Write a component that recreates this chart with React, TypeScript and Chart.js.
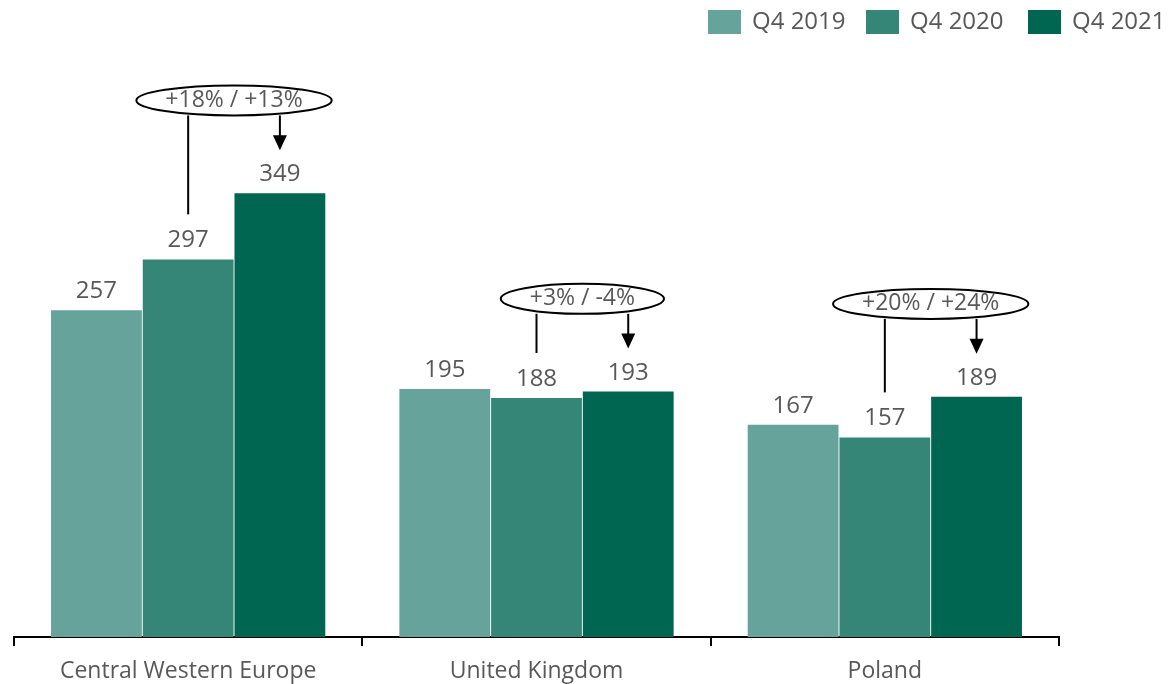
import React, { useEffect, useRef } from "react";
import { Chart, registerables } from "chart.js";

Chart.register(...registerables);

const categories = ["Central Western Europe", "United Kingdom", "Poland"];
const seriesNames = ["Q4 2019", "Q4 2020", "Q4 2021"];
const q42019 = [257, 195, 167];
const q42020 = [297, 188, 157];
const q42021 = [349, 193, 189];
const changeLabels = ["+18% / +13%", "+3% / -4%", "+20% / +24%"];
const changeLevels = [422, 266, 262];
const colors = ["#66a49b", "#358677", "#006652"];

const FONT = "'Open Sans', sans-serif";
const TEXT = "#585858";

export default function App() {
  const ref = useRef<HTMLCanvasElement | null>(null);

  useEffect(() => {
    document.body.style.margin = "0";
    const canvas = ref.current!;
    const overlay = {
      id: "overlay",
      afterDatasetsDraw(chart: any) {
        const ctx = chart.ctx as CanvasRenderingContext2D;
        ctx.save();
        // value labels
        ctx.font = `24px ${FONT}`;
        ctx.fillStyle = TEXT;
        ctx.textAlign = "center";
        ctx.textBaseline = "alphabetic";
        chart.data.datasets.forEach((ds: any, di: number) => {
          const meta = chart.getDatasetMeta(di);
          meta.data.forEach((bar: any, i: number) => {
            ctx.fillText(String(ds.data[i]), bar.x, bar.y - 12);
          });
        });
        // annotations
        const yScale = chart.scales.y;
        const m1 = chart.getDatasetMeta(1);
        const m2 = chart.getDatasetMeta(2);
        changeLabels.forEach((lab, i) => {
          const b1 = m1.data[i];
          const b2 = m2.data[i];
          const cx = (b1.x + b2.x) / 2;
          const cy = yScale.getPixelForValue(changeLevels[i]);
          ctx.font = `23px ${FONT}`;
          const tw = ctx.measureText(lab).width;
          const rx = tw / 2 + 29;
          const ry = 15;
          ctx.strokeStyle = "#000";
          ctx.lineWidth = 2;
          ctx.fillStyle = "#fff";
          ctx.beginPath();
          ctx.ellipse(cx, cy, rx, ry, 0, 0, Math.PI * 2);
          ctx.fill();
          ctx.stroke();
          ctx.fillStyle = TEXT;
          ctx.textBaseline = "middle";
          ctx.fillText(lab, cx, cy);
          // left line
          ctx.beginPath();
          ctx.moveTo(b1.x, cy + ry);
          ctx.lineTo(b1.x, b1.y - 45);
          ctx.stroke();
          // arrow
          const tip = b2.y - 43;
          ctx.beginPath();
          ctx.moveTo(b2.x, cy + ry);
          ctx.lineTo(b2.x, tip - 12);
          ctx.stroke();
          ctx.fillStyle = "#000";
          ctx.beginPath();
          ctx.moveTo(b2.x - 7, tip - 15);
          ctx.lineTo(b2.x + 7, tip - 15);
          ctx.lineTo(b2.x, tip);
          ctx.closePath();
          ctx.fill();
        });
        // legend
        ctx.font = `24px ${FONT}`;
        ctx.textAlign = "left";
        ctx.textBaseline = "middle";
        const legendX = [708, 866, 1028];
        seriesNames.forEach((n, i) => {
          ctx.fillStyle = colors[i];
          ctx.fillRect(legendX[i], 10, 33, 24);
          ctx.fillStyle = TEXT;
          ctx.fillText(n, legendX[i] + 44, 22);
        });
        ctx.restore();
      },
    };

    const chart = new Chart(canvas, {
      type: "bar",
      data: {
        labels: categories,
        datasets: [q42019, q42020, q42021].map((d, i) => ({
          label: seriesNames[i],
          data: d,
          backgroundColor: colors[i],
          borderWidth: 0,
          barPercentage: 0.99,
          categoryPercentage: 0.79,
        })),
      },
      options: {
        animation: false,
        responsive: false,
        maintainAspectRatio: false,
        layout: { padding: { left: 14, right: 110, top: 0, bottom: 0 } },
        plugins: { legend: { display: false }, tooltip: { enabled: false } },
        scales: {
          x: {
            afterFit(scale: any) {
              scale.height = 47;
            },
            grid: {
              offset: true,
              drawOnChartArea: false,
              drawTicks: true,
              tickLength: 9,
              color: "#000",
              lineWidth: 2,
            },
            border: { color: "#000", width: 2 },
            ticks: {
              color: TEXT,
              font: { family: "'Open Sans', sans-serif", size: 23 },
              padding: 12,
              maxRotation: 0,
            },
          },
          y: {
            display: false,
            min: 0,
            max: 501,
          },
        },
      },
      plugins: [overlay],
    });
    return () => chart.destroy();
  }, []);

  return <canvas ref={ref} width={1169} height={684} style={{ display: "block" }} />;
}
